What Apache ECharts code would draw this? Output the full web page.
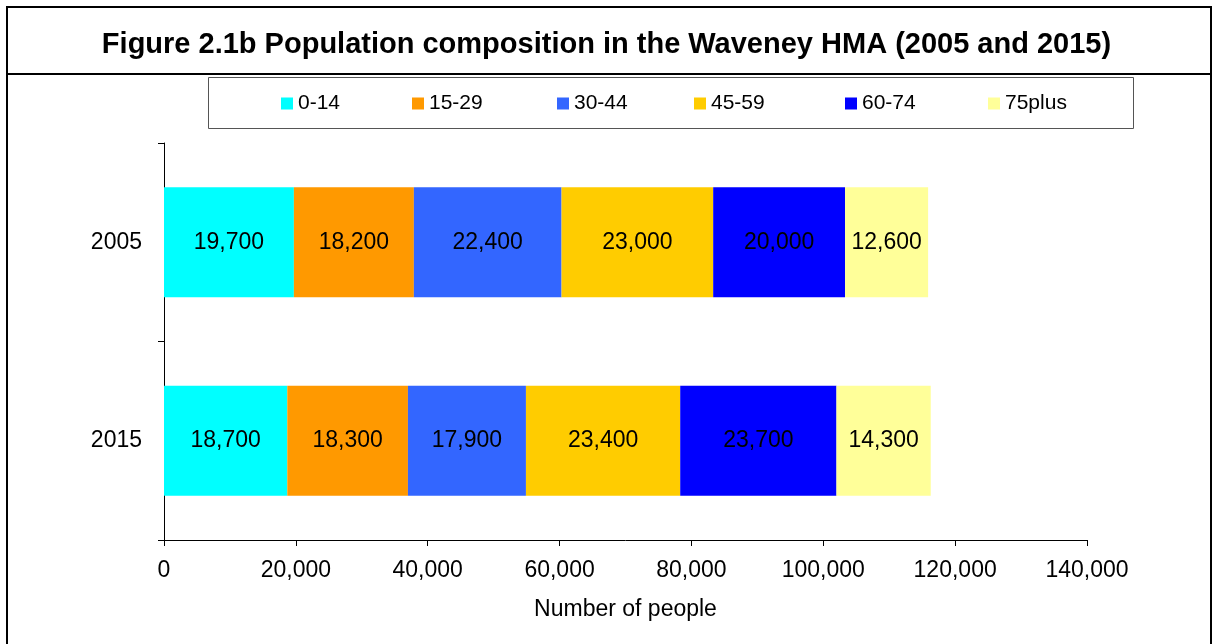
<!DOCTYPE html>
<html>
<head>
<meta charset="utf-8">
<script src="https://cdn.jsdelivr.net/npm/echarts@6/dist/echarts.min.js"></script>
<style>
  html, body { margin: 0; padding: 0; background: #fff; }
  #chart { width: 1213px; height: 644px; }
</style>
</head>
<body>
<div id="chart"></div>
<script>
  // data
  var years = ['2005', '2015'];
  var groups = ['0-14', '15-29', '30-44', '45-59', '60-74', '75plus'];
  var age0_14 = [19700, 18700];
  var age15_29 = [18200, 18300];
  var age30_44 = [22400, 17900];
  var age45_59 = [23000, 23400];
  var age60_74 = [20000, 23700];
  var age75plus = [12600, 14300];
  var xTicks = [0, 20000, 40000, 60000, 80000, 100000, 120000, 140000];

  var values = [age0_14, age15_29, age30_44, age45_59, age60_74, age75plus];
  var colors = ['#00ffff', '#ff9900', '#3366ff', '#ffcc00', '#0000ff', '#ffff99'];
  var legendLeft = [281, 412, 557, 694, 845, 988];
  var font = 'Liberation Sans, Arial, sans-serif';

  function fmt(v) {
    return Number(v).toLocaleString('en-US');
  }

  var myChart = echarts.init(document.getElementById('chart'));

  var series = groups.map(function (g, i) {
    return {
      name: g,
      type: 'bar',
      stack: 'total',
      barWidth: 110,
      data: values[i],
      itemStyle: { color: colors[i] },
      label: {
        show: true,
        position: 'inside',
        color: '#000',
        fontFamily: font,
        fontSize: 23,
        formatter: function (p) { return fmt(p.value); }
      }
    };
  });

  var legends = groups.map(function (g, i) {
    return {
      data: [g],
      left: legendLeft[i] - 5,
      top: 88,
      itemWidth: 12,
      itemHeight: 12,
      icon: 'rect',
      textStyle: { fontFamily: font, fontSize: 21, color: '#000' }
    };
  });

  myChart.setOption({
    animation: false,
    color: colors,
    title: {
      text: 'Figure 2.1b Population composition in the Waveney HMA (2005 and 2015)',
      left: 'center',
      top: 25,
      textStyle: { fontFamily: font, fontSize: 29, fontWeight: 'bold', color: '#000' }
    },
    legend: legends,
    graphic: [
      {
        type: 'rect',
        shape: { x: 7, y: 7, width: 1204, height: 640 },
        style: { fill: null, stroke: '#000', lineWidth: 2 }
      },
      {
        type: 'line',
        shape: { x1: 7, y1: 74, x2: 1212, y2: 74 },
        style: { stroke: '#000', lineWidth: 2 }
      },
      {
        type: 'rect',
        shape: { x: 208.5, y: 77.5, width: 925, height: 51 },
        style: { fill: null, stroke: '#555', lineWidth: 1 }
      }
    ],
    grid: { left: 164, right: 126, top: 143, bottom: 104 },
    xAxis: {
      type: 'value',
      min: xTicks[0],
      max: xTicks[xTicks.length - 1],
      interval: 20000,
      name: 'Number of people',
      nameLocation: 'middle',
      nameGap: 58,
      nameTextStyle: { fontFamily: font, fontSize: 23, color: '#000' },
      splitLine: { show: false },
      axisLine: { show: true, lineStyle: { color: '#000' } },
      axisTick: { show: true, length: 6, lineStyle: { color: '#000' } },
      axisLabel: {
        fontFamily: font, fontSize: 23, color: '#000', margin: 19,
        formatter: function (v) { return fmt(v); }
      }
    },
    yAxis: {
      type: 'category',
      data: years,
      inverse: true,
      axisLine: { show: true, lineStyle: { color: '#000' } },
      axisTick: { show: true, length: 6, lineStyle: { color: '#000' } },
      axisLabel: { fontFamily: font, fontSize: 23, color: '#000', margin: 22 }
    },
    series: series
  });
</script>
</body>
</html>
